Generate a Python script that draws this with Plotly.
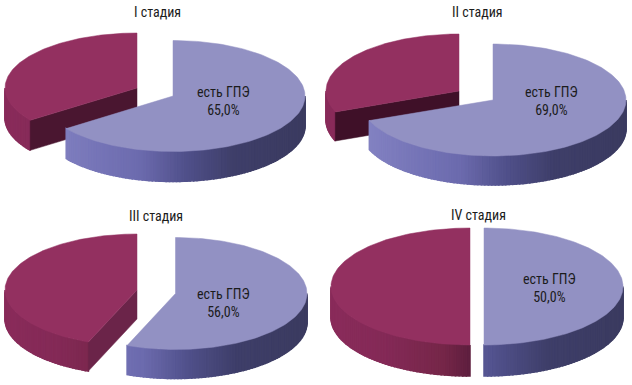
import numpy as np
import plotly.graph_objects as go

stages = ["I стадия", "II стадия", "III стадия", "IV стадия"]
gpe_share = [65.0, 69.0, 56.0, 50.0]
other_share = [35.0, 31.0, 44.0, 50.0]
slice_label = "есть ГПЭ"

W, H = 632, 385
FONT = "Roboto Condensed, PT Sans Narrow, Liberation Sans, sans-serif"
TOP_BLUE = "#9291c3"
TOP_RED = "#933060"
BLUE_STOPS = [(-1, "#8584c4"), (-0.6, "#7776b8"), (-0.25, "#6c6bae"), (0.1, "#50508a"),
              (0.45, "#3f3f6a"), (1, "#3b3b60")]
RED_STOPS = [(-1, "#8a2c5b"), (-0.6, "#842a57"), (-0.2, "#762749"), (0.0, "#5e1f3f"), (1, "#5e1f3f")]

# cx, cy, rx, ry of each wedge, wall depth, colour of the red cut face, text positions
panels = [
    dict(blue=(173, 96, 132, 55.5), red=(137, 88, 132, 55), depth=30, cut="#4a1630",
         title=(157, 12), lab=(223, 101)),
    dict(blue=(493, 100, 133, 56), red=(459, 91, 133, 57), depth=29, cut="#3f1028",
         title=(477, 12), lab=(551, 101)),
    dict(blue=(175.5, 293.5, 131.5, 56), red=(137, 290, 132, 56), depth=29, cut="#6b2449",
         title=(156, 216), lab=(223, 303)),
    dict(blue=(484, 286.5, 139, 58.5), red=(470, 286.5, 139, 58.5), depth=31, cut="#5e1f3f",
         title=(478, 215), lab=(549, 288)),
]


def hex_rgb(c):
    return np.array([int(c[i:i + 2], 16) for i in (1, 3, 5)], float)


def ramp(stops, t):
    ts = [s[0] for s in stops]
    cols = np.array([hex_rgb(s[1]) for s in stops])
    rgb = [np.interp(t, ts, cols[:, i]) for i in range(3)]
    return "rgb(%d,%d,%d)" % tuple(rgb)


def ell(geo, deg):
    cx, cy, rx, ry = geo
    a = np.radians(deg)
    return cx + rx * np.sin(a), cy - ry * np.cos(a)


fig = go.Figure()


def poly(xs, ys, color, name, lw=0.5):
    fig.add_trace(go.Scatter(x=list(xs), y=list(ys), mode="lines", fill="toself", fillcolor=color,
                             line=dict(color=color, width=lw), hoverinfo="skip", name=name,
                             showlegend=False))


def rim(geo, a0, a1, depth, stops, name):
    """Outer wall between clockwise angles a0..a1 (degrees from 12 o'clock)."""
    if a1 <= a0:
        return
    n = max(2, int((a1 - a0) / 1.5))
    edges = np.linspace(a0, a1, n + 1)
    cx, _, rx, _ = geo
    for s, e in zip(edges[:-1], edges[1:]):
        aa = np.linspace(s, e, 3)
        x, y = ell(geo, aa)
        t = (x.mean() - cx) / rx
        poly(np.r_[x, x[::-1], x[0]], np.r_[y, y[::-1] + depth, y[0]], ramp(stops, t), name, lw=1.5)


for p, stage, g, o in zip(panels, stages, gpe_share, other_share):
    d = p["depth"]
    # red wedge runs counter-clockwise from 12 o'clock by its share
    r = p["red"]
    start = 360 - o * 3.6
    rim(r, max(start, 180), 270, d, RED_STOPS, "other wall")
    ex, ey = ell(r, start)
    if o < 50:
        poly([r[0], ex, ex, r[0], r[0]], [r[1], ey, ey + d, r[1] + d, r[1]], p["cut"], "other cut")
    aa = np.linspace(start, 360, 120)
    x, y = ell(r, aa)
    poly(np.r_[r[0], x, r[0]], np.r_[r[1], y, r[1]], TOP_RED, "other")

    # blue wedge runs clockwise from 12 o'clock by its share
    b = p["blue"]
    end = g * 3.6
    rim(b, 90, min(end, 270), d, BLUE_STOPS, "gpe wall")
    aa = np.linspace(0, end, 160)
    x, y = ell(b, aa)
    poly(np.r_[b[0], x, b[0]], np.r_[b[1], y, b[1]], TOP_BLUE, slice_label)

    value = f"{g:.1f}%".replace(".", ",")
    for pos, text in ((p["title"], stage), (p["lab"], f"{slice_label}<br>{value}")):
        fig.add_annotation(x=pos[0], y=pos[1], text=text, showarrow=False, xanchor="center", yanchor="middle",
                           font=dict(family=FONT, size=14, color="#1c1c1c"))

fig.update_layout(
    width=W, height=H, margin=dict(l=0, r=0, t=0, b=0), autosize=False,
    paper_bgcolor="white", plot_bgcolor="white", showlegend=False,
    xaxis=dict(range=[0, W], visible=False, fixedrange=True),
    yaxis=dict(range=[H, 0], visible=False, fixedrange=True),
)
fig.write_html("out.html", config=dict(displayModeBar=False),
               post_script="document.body.style.margin='0';document.body.style.overflow='hidden';")
